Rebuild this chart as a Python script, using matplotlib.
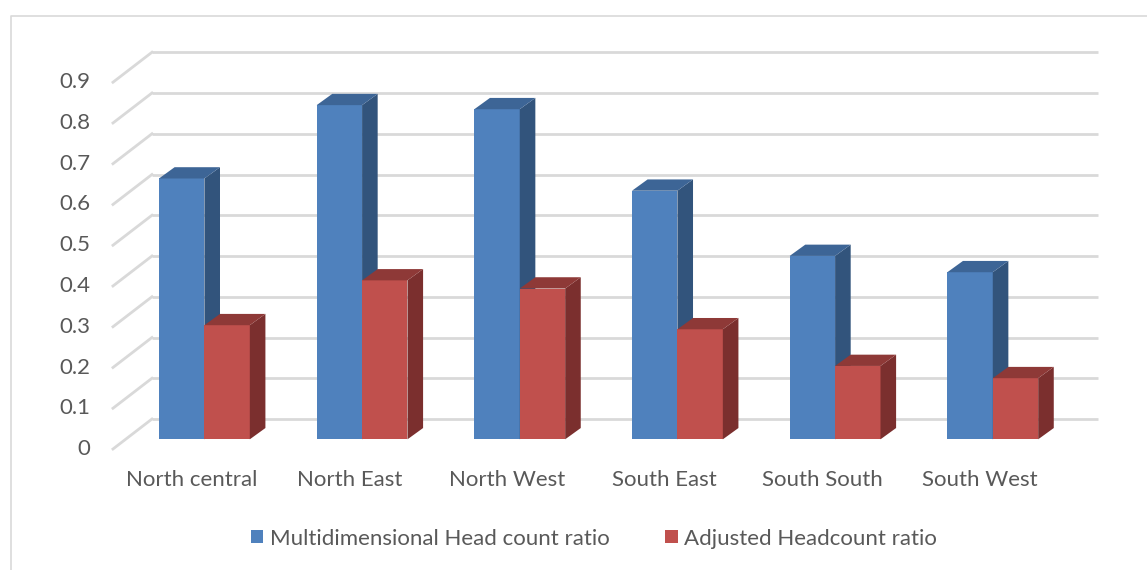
import matplotlib.pyplot as plt
from matplotlib.patches import Polygon
import numpy as np

regions = ['North central', 'North East', 'North West', 'South East', 'South South', 'South West']
mhr = [0.64, 0.82, 0.81, 0.61, 0.45, 0.41]   # Multidimensional Head count ratio
ahr = [0.28, 0.39, 0.37, 0.27, 0.18, 0.15]   # Adjusted Headcount ratio
yticks = [0, 0.1, 0.2, 0.3, 0.4, 0.5, 0.6, 0.7, 0.8, 0.9]

plt.rcParams['font.family'] = ['Lato', 'DejaVu Sans']
txt_color = '#595959'
grid_color = '#d9d9d9'

fig = plt.figure(figsize=(11.47, 5.70), dpi=100)
ax = fig.add_axes([0, 0, 1, 1])
ax.set_xlim(-1.2964, 5.9782)
ax.set_ylim(-0.3207, 1.0780)
ax.axis('off')

# offsets of the pseudo-3d planes, relative to the bars' front plane
back_dx, back_dy = 0.1674, 0.0498     # back wall
front_dx, front_dy = -0.0799, -0.0238  # front edge of floor
bar_dx, bar_dy = 0.0989, 0.0277       # depth of a bar

n = len(regions)
x = np.arange(n)

# back wall and side wall grid
for v in yticks:
    ax.plot([-0.5 + back_dx, n - 0.5 + back_dx], [v + back_dy, v + back_dy],
            color=grid_color, lw=2, zorder=1, solid_capstyle='butt')
    ax.plot([-0.5 + front_dx, -0.5 + back_dx], [v + front_dy, v + back_dy],
            color=grid_color, lw=2, zorder=1)
    ax.text(-0.5 + front_dx - 0.145, v + front_dy, f'{v:g}', ha='right', va='center',
            fontsize=16, color=txt_color)

w = 0.288
series = [
    (mhr, -w / 2, '#4F81BD', '#32547C', '#3D6596', 'Multidimensional Head count ratio'),
    (ahr, w / 2, '#C0504D', '#7B2F2E', '#8E3937', 'Adjusted Headcount ratio'),
]

handles = []
for i in range(n):
    for k, (vals, off, c_front, c_side, c_top, lab) in enumerate(series):
        b = ax.bar(x[i] + off, vals[i], width=w, color=c_front, zorder=3 + 2 * i + k,
                   edgecolor='none', label=lab if i == 0 else None)
        r = b.patches[0]
        x0, x1, h = r.get_x(), r.get_x() + r.get_width(), r.get_height()
        side = Polygon([(x1, 0), (x1, h), (x1 + bar_dx, h + bar_dy), (x1 + bar_dx, bar_dy)],
                       closed=True, facecolor=c_side, edgecolor='none', zorder=3 + 2 * i + k)
        top = Polygon([(x0, h), (x1, h), (x1 + bar_dx, h + bar_dy), (x0 + bar_dx, h + bar_dy)],
                      closed=True, facecolor=c_top, edgecolor='none', zorder=3 + 2 * i + k)
        ax.add_patch(side)
        ax.add_patch(top)
        if i == 0:
            handles.append(b)

# category labels at the front edge of the floor
for i, name in enumerate(regions):
    ax.text(x[i] + front_dx, -0.1, name, ha='center', va='center',
            fontsize=16, color=txt_color)

leg = ax.legend(handles=handles, loc='center', bbox_to_anchor=(0.518, 0.055), ncol=2,
                frameon=False, fontsize=16, handlelength=0.55, handleheight=0.55,
                handletextpad=0.3, columnspacing=2.5)
for t in leg.get_texts():
    t.set_color(txt_color)

# chart area border (top and left edges visible)
bx, by = 11 / 1147, 1 - 16 / 570
ax.plot([bx, bx, 1.0], [0.0, by, by], transform=ax.transAxes, color='#d9d9d9',
        lw=1.2, clip_on=False, zorder=0)

fig.savefig('out.png', dpi=100)
